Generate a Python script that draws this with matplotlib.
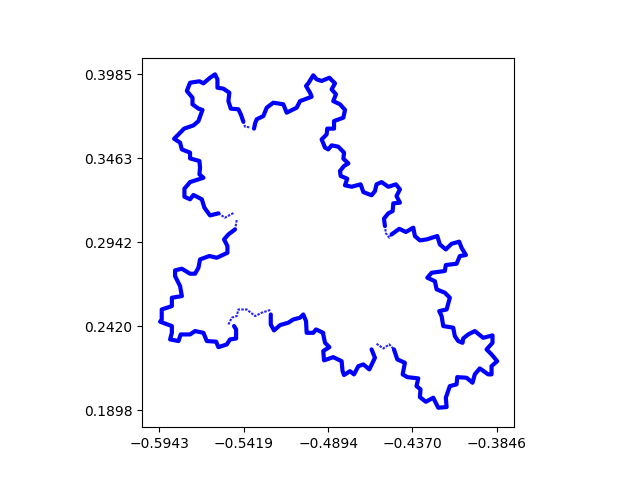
#!/usr/bin/env python3
import matplotlib
matplotlib.use("Agg")
import matplotlib.pyplot as plt

# ticks sit on the data extremes
x_ticks = [-0.5943, -0.5419, -0.4894, -0.4370, -0.3846]
y_ticks = [0.1898, 0.2420, 0.2942, 0.3463, 0.3985]

# ===== boundary, clockwise piece by piece =====
# dense parts of the curve
top_left_x = [-0.5420, -0.5436, -0.5451, -0.5498, -0.5513, -0.5507, -0.5544, -0.5581, -0.5581, -0.5596, -0.5627,
              -0.5668, -0.5693, -0.5751, -0.5771, -0.5736, -0.5736, -0.5699, -0.5674, -0.5699, -0.5730, -0.5788,
              -0.5823, -0.5850, -0.5813, -0.5802, -0.5751, -0.5751, -0.5693, -0.5689, -0.5693, -0.5668, -0.5751,
              -0.5786, -0.5786, -0.5751, -0.5730, -0.5678, -0.5662, -0.5627, -0.5575]
top_left_y = [0.3691, 0.3737, 0.3768, 0.3772, 0.3819, 0.3871, 0.3896, 0.3902, 0.3954, 0.3985, 0.3964,
              0.3929, 0.3942, 0.3933, 0.3882, 0.3840, 0.3799, 0.3772, 0.3764, 0.3695, 0.3668, 0.3648,
              0.3612, 0.3585, 0.3561, 0.3519, 0.3499, 0.3463, 0.3447, 0.3405, 0.3364, 0.3343, 0.3316,
              0.3275, 0.3225, 0.3209, 0.3236, 0.3209, 0.3157, 0.3109, 0.3122]

left_x = [-0.5472, -0.5513, -0.5540, -0.5519, -0.5519, -0.5585, -0.5631, -0.5689, -0.5699, -0.5720, -0.5751,
          -0.5802, -0.5844, -0.5844, -0.5813, -0.5802, -0.5864, -0.5864, -0.5927, -0.5927, -0.5937, -0.5864,
          -0.5864, -0.5875, -0.5823, -0.5809, -0.5751, -0.5720, -0.5668, -0.5647, -0.5589, -0.5575, -0.5523,
          -0.5503, -0.5465, -0.5465, -0.5478]
left_y = [0.3022, 0.2991, 0.2960, 0.2919, 0.2877, 0.2846, 0.2857, 0.2836, 0.2784, 0.2747, 0.2747,
          0.2778, 0.2768, 0.2732, 0.2670, 0.2608, 0.2598, 0.2546, 0.2525, 0.2463, 0.2449, 0.2422,
          0.2380, 0.2339, 0.2329, 0.2370, 0.2370, 0.2391, 0.2380, 0.2329, 0.2325, 0.2291, 0.2308,
          0.2339, 0.2345, 0.2401, 0.2422]

bottom_mid_x = [-0.5250, -0.5250, -0.5230, -0.5192, -0.5141, -0.5110, -0.5068, -0.5048, -0.5031, -0.5027, -0.4986,
                -0.4969, -0.4924, -0.4924, -0.4913, -0.4886, -0.4924, -0.4919, -0.4862, -0.4810, -0.4804, -0.4795,
                -0.4758, -0.4733, -0.4706, -0.4675, -0.4638, -0.4603, -0.4624]
bottom_mid_y = [0.2494, 0.2432, 0.2395, 0.2428, 0.2443, 0.2463, 0.2474, 0.2494, 0.2453, 0.2380, 0.2380,
                0.2401, 0.2380, 0.2370, 0.2318, 0.2291, 0.2267, 0.2209, 0.2229, 0.2204, 0.2142, 0.2118,
                0.2142, 0.2122, 0.2173, 0.2184, 0.2153, 0.2225, 0.2277]

bottom_right_x = [-0.4485, -0.4464, -0.4417, -0.4431, -0.4402, -0.4334, -0.4345, -0.4320, -0.4324, -0.4287, -0.4241,
                  -0.4210, -0.4158, -0.4163, -0.4138, -0.4096, -0.4092, -0.4034, -0.3997, -0.3983, -0.3952, -0.3900,
                  -0.3879, -0.3879, -0.3844, -0.3879, -0.3910, -0.3873, -0.3873, -0.3931, -0.3983, -0.4024, -0.4055,
                  -0.4059, -0.4086, -0.4107, -0.4117, -0.4179, -0.4189, -0.4204, -0.4158, -0.4138, -0.4169, -0.4220,
                  -0.4231, -0.4278, -0.4251, -0.4169, -0.4163, -0.4096, -0.4076, -0.4038, -0.4065, -0.4080, -0.4127,
                  -0.4163, -0.4200, -0.4216, -0.4282, -0.4324, -0.4355, -0.4365, -0.4411, -0.4452, -0.4500]
bottom_right_y = [0.2277, 0.2215, 0.2194, 0.2122, 0.2105, 0.2097, 0.2049, 0.2029, 0.1981, 0.1952, 0.1977,
                  0.1915, 0.1919, 0.1977, 0.2049, 0.2060, 0.2105, 0.2101, 0.2070, 0.2122, 0.2159, 0.2122,
                  0.2122, 0.2173, 0.2204, 0.2246, 0.2277, 0.2318, 0.2364, 0.2349, 0.2391, 0.2370, 0.2345,
                  0.2318, 0.2329, 0.2360, 0.2412, 0.2422, 0.2484, 0.2515, 0.2525, 0.2598, 0.2629, 0.2650,
                  0.2701, 0.2722, 0.2753, 0.2764, 0.2801, 0.2809, 0.2857, 0.2863, 0.2908, 0.2946, 0.2933,
                  0.2898, 0.2929, 0.2981, 0.2960, 0.2954, 0.2981, 0.3033, 0.3006, 0.3026, 0.2991]

top_right_x = [-0.4541, -0.4547, -0.4520, -0.4493, -0.4489, -0.4448, -0.4469, -0.4448, -0.4473, -0.4520, -0.4562,
               -0.4593, -0.4603, -0.4624, -0.4675, -0.4692, -0.4748, -0.4789, -0.4775, -0.4816, -0.4820, -0.4795,
               -0.4768, -0.4799, -0.4795, -0.4831, -0.4872, -0.4893, -0.4913, -0.4934, -0.4903, -0.4899, -0.4857,
               -0.4857, -0.4799, -0.4789, -0.4820, -0.4862, -0.4845, -0.4872, -0.4851, -0.4886, -0.4934, -0.4965,
               -0.4986, -0.5017, -0.5031, -0.5006, -0.4996, -0.5068, -0.5089, -0.5151, -0.5172, -0.5234, -0.5275,
               -0.5296, -0.5337, -0.5347, -0.5354]
top_right_y = [0.3043, 0.3089, 0.3122, 0.3136, 0.3184, 0.3188, 0.3229, 0.3271, 0.3302, 0.3287, 0.3316,
               0.3302, 0.3260, 0.3234, 0.3254, 0.3302, 0.3287, 0.3296, 0.3337, 0.3354, 0.3385, 0.3416,
               0.3432, 0.3461, 0.3499, 0.3536, 0.3544, 0.3519, 0.3530, 0.3581, 0.3612, 0.3648, 0.3648,
               0.3695, 0.3716, 0.3764, 0.3799, 0.3819, 0.3861, 0.3892, 0.3929, 0.3964, 0.3944, 0.3954,
               0.3979, 0.3929, 0.3913, 0.3871, 0.3846, 0.3819, 0.3778, 0.3747, 0.3799, 0.3809, 0.3778,
               0.3726, 0.3706, 0.3681, 0.3648]

# sparse parts, where the points thin out
sparse_a_x = [-0.5383, -0.5410, -0.5420]
sparse_a_y = [0.3656, 0.3660, 0.3691]
sparse_b_x = [-0.5575, -0.5534, -0.5478]
sparse_b_y = [0.3122, 0.3095, 0.3126]
sparse_c_x = [-0.5461, -0.5472, -0.5513]
sparse_c_y = [0.3080, 0.3022, 0.2991]
sparse_d_x = [-0.5513, -0.5492, -0.5461, -0.5451, -0.5399, -0.5347, -0.5306, -0.5250]
sparse_d_y = [0.2432, 0.2474, 0.2484, 0.2525, 0.2525, 0.2484, 0.2505, 0.2523]
sparse_e_x = [-0.4593, -0.4551, -0.4514, -0.4485]
sparse_e_y = [0.2312, 0.2283, 0.2308, 0.2277]
sparse_f_x = [-0.4500, -0.4514, -0.4535, -0.4541]
sparse_f_y = [0.2991, 0.2971, 0.2998, 0.3043]

fig, ax = plt.subplots()

# thick runs of points in the original, about 4 px across
for xs, ys in [(top_left_x, top_left_y), (left_x, left_y), (bottom_mid_x, bottom_mid_y),
               (bottom_right_x, bottom_right_y), (top_right_x, top_right_y)]:
    ax.plot(xs, ys, color='blue', linewidth=3.0, solid_joinstyle='round', solid_capstyle='round')

# thin dotted runs
for xs, ys in [(sparse_a_x, sparse_a_y), (sparse_b_x, sparse_b_y), (sparse_c_x, sparse_c_y),
               (sparse_d_x, sparse_d_y), (sparse_e_x, sparse_e_y), (sparse_f_x, sparse_f_y)]:
    ax.plot(xs, ys, color='blue', linewidth=1.5, linestyle=(0, (1.2, 0.6)), alpha=0.85)

ax.set_xlim(-0.6048, -0.3741)
ax.set_ylim(0.1794, 0.4089)
ax.set_xticks(x_ticks)
ax.set_yticks(y_ticks)
ax.set_xticklabels([f'{v:.4f}'.replace('-', '\u2212') for v in x_ticks])
ax.set_yticklabels([f'{v:.4f}' for v in y_ticks])
ax.set_aspect('equal')

plt.savefig('out.png', dpi=100)
